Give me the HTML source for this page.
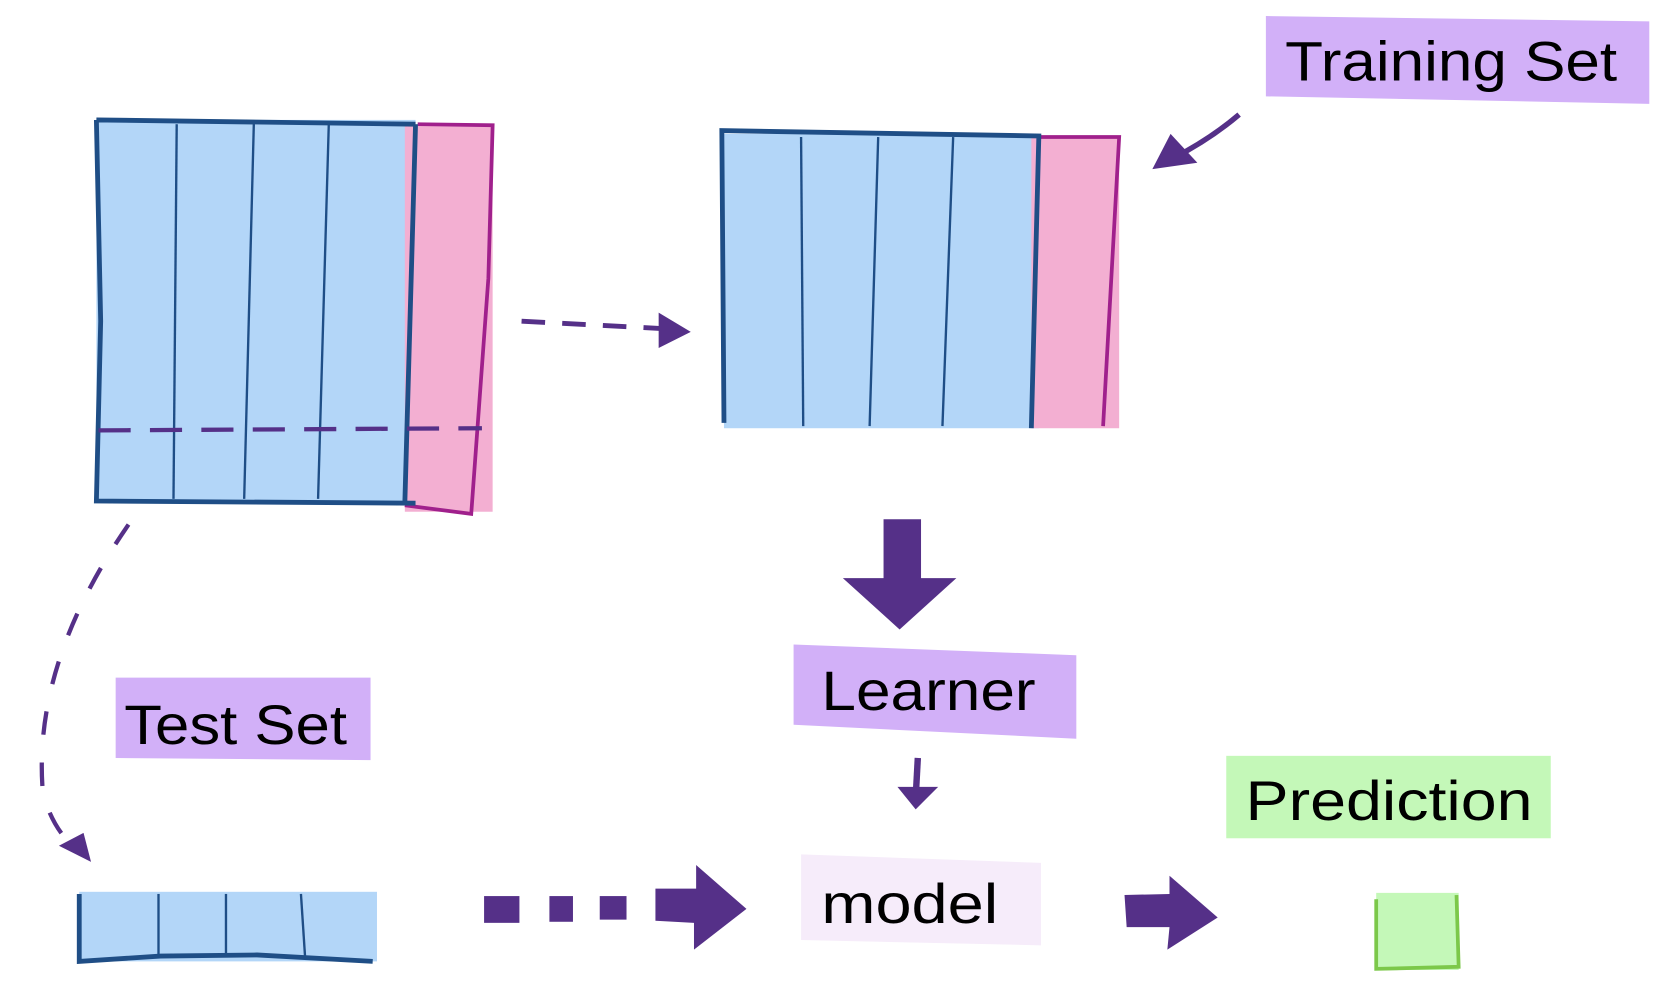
<!DOCTYPE html>
<html><head><style>
html,body{margin:0;padding:0;background:#fff;}
svg{display:block;}
text{font-family:"Liberation Sans",sans-serif;fill:#000;}
</style></head><body>
<svg width="1660" height="1001" viewBox="0 0 1550 935" preserveAspectRatio="none">
<rect x="90" y="112" width="298" height="356" fill="#b3d6f8"/>
<rect x="378" y="116" width="82" height="362" fill="#f3afd2"/>
<path d="M390 116 L460 117 L456 260 L440 480 L378 472" fill="none" stroke="#a0208c" stroke-width="3.5"/>
<path d="M90 112 L388 116 M90 112 L94 300 L90 468 L388 470 M388 116 L378 470" fill="none" stroke="#1f4e86" stroke-width="4.5"/>
<g stroke="#1f4e86" stroke-width="2.2" fill="none">
<path d="M165 116 L162 466"/><path d="M237 116 L228 466"/><path d="M307 116 L297 466"/>
</g>
<path d="M92 402 L450 400" stroke="#553088" stroke-width="4" stroke-dasharray="30,18" fill="none"/>
<path d="M487 300 L620 307" stroke="#553088" stroke-width="4.5" stroke-dasharray="22,16" fill="none"/>
<path d="M615 292 L645 310 L615 325 Z" fill="#553088"/>
<rect x="676" y="125" width="294" height="275" fill="#b3d6f8"/>
<rect x="963" y="128" width="82" height="272" fill="#f3afd2"/>
<path d="M972 128 L1045 128 L1030 398" fill="none" stroke="#a0208c" stroke-width="3.5"/>
<path d="M676 395 L674 122 L970 127 L963 400" fill="none" stroke="#1f4e86" stroke-width="4.5"/>
<g stroke="#1f4e86" stroke-width="2.2" fill="none">
<path d="M748 128 L750 398"/><path d="M820 128 L812 398"/><path d="M890 128 L880 398"/>
</g>
<path d="M1182 15 L1540 20 L1540 97 L1182 90 Z" fill="#d2b0f8"/>
<text x="1200" y="75" font-size="52" textLength="310" lengthAdjust="spacingAndGlyphs">Training Set</text>
<path d="M1157 107 Q1130 130 1095 148" stroke="#553088" stroke-width="5" fill="none"/>
<path d="M1076 158 L1093 125 L1118 152 Z" fill="#553088"/>
<path d="M825 485 L860 485 L860 540 L893 540 L840 588 L787 540 L825 540 Z" fill="#553088"/>
<path d="M741 602 L1005 612 L1005 690 L741 677 Z" fill="#d2b0f8"/>
<text x="767" y="663" font-size="52" textLength="200" lengthAdjust="spacingAndGlyphs">Learner</text>
<path d="M857 708 L855 745" stroke="#553088" stroke-width="6" fill="none"/>
<path d="M838 735 L876 735 L855 756 Z" fill="#553088"/>
<path d="M748 798 L972 806 L972 883 L748 878 Z" fill="#f6ecfa"/>
<text x="767" y="862" font-size="52" textLength="165" lengthAdjust="spacingAndGlyphs">model</text>
<rect x="1145" y="706" width="303" height="77" fill="#c4f8b8"/>
<text x="1163" y="766" font-size="52" textLength="268" lengthAdjust="spacingAndGlyphs">Prediction</text>
<rect x="1285" y="834" width="77" height="72" fill="#c4f8b8"/>
<path d="M1285 840 L1285 905 L1362 903 L1360 836" fill="none" stroke="#7cc84a" stroke-width="3.5"/>
<path d="M108 633 L346 633 L346 710 L108 708 Z" fill="#d2b0f8"/>
<text x="116" y="695" font-size="52" textLength="208" lengthAdjust="spacingAndGlyphs">Test Set</text>
<path d="M120 490 Q30 620 40 740 Q50 780 80 800" stroke="#553088" stroke-width="4" stroke-dasharray="22,26" fill="none"/>
<path d="M55 790 L85 805 L78 778 Z" fill="#553088"/>
<rect x="74" y="833" width="278" height="65" fill="#b3d6f8"/>
<path d="M74 835 L74 898 L150 893 L240 892 L348 898" fill="none" stroke="#1f4e86" stroke-width="4.5"/>
<g stroke="#1f4e86" stroke-width="2.2"><path d="M148 835 L148 892"/><path d="M211 835 L211 892"/><path d="M281 835 L285 896"/></g>
<g fill="#553088">
<rect x="452" y="837" width="33" height="25"/>
<rect x="513" y="837" width="22" height="24"/>
<rect x="560" y="837" width="25" height="22"/>
<path d="M612 830 L650 830 L650 808 L697 849 L648 887 L648 862 L612 860 Z"/>
<path d="M1050 836 L1092 835 L1092 818 L1137 857 L1090 887 L1092 866 L1052 866 Z"/>
</g>
</svg>
</body></html>
